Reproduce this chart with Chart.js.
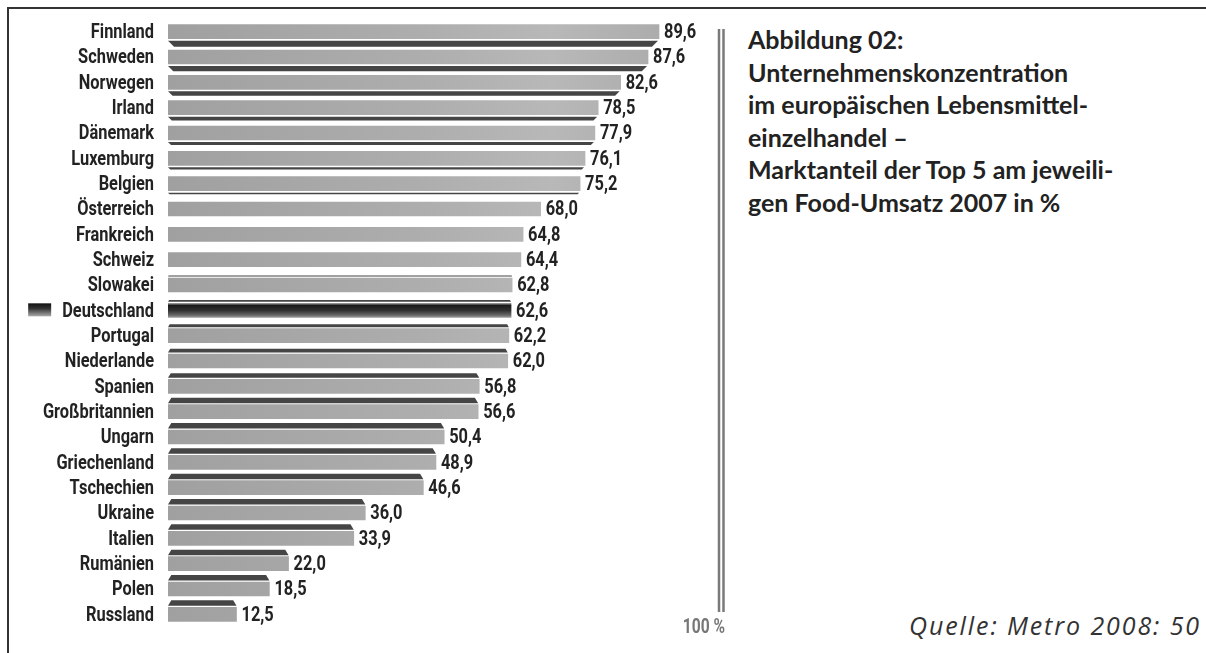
<!DOCTYPE html>
<html>
<head>
<meta charset="utf-8">
<script src="https://cdn.jsdelivr.net/npm/chart.js@4.4.0/dist/chart.umd.min.js"></script>
<style>
  body { margin: 0; background: #fff; width: 1206px; height: 653px; overflow: hidden; position: relative; }
  #rahmen { position: absolute; left: 7px; top: 7px; right: -10px; bottom: -10px; border-left: 2px solid #333; border-top: 2px solid #333; }
  #box { position: absolute; left: 0; top: 0; width: 740px; height: 653px; }
  #titel { position: absolute; left: 748px; top: 23px; font: bold 25px Lato, sans-serif; line-height: 32.5px; color: #222; }
  #quelle { position: absolute; right: 5px; top: 608px; font: italic 400 25px "Open Sans", sans-serif; letter-spacing: 1.9px; color: #333; }
</style>
</head>
<body>
<div id="rahmen"></div>
<div id="box"><canvas id="grafik" width="740" height="653"></canvas></div>
<div id="titel">Abbildung 02:<br>Unternehmenskonzentration<br>im europäischen Lebensmittel-<br>einzelhandel –<br>Marktanteil der Top 5 am jeweili-<br>gen Food-Umsatz 2007 in %</div>
<div id="quelle">Quelle: Metro 2008: 50</div>

<script>
const laender = ["Finnland", "Schweden", "Norwegen", "Irland", "Dänemark", "Luxemburg", "Belgien",
  "Österreich", "Frankreich", "Schweiz", "Slowakei", "Deutschland", "Portugal", "Niederlande",
  "Spanien", "Großbritannien", "Ungarn", "Griechenland", "Tschechien", "Ukraine", "Italien",
  "Rumänien", "Polen", "Russland"];
const anteile = [89.6, 87.6, 82.6, 78.5, 77.9, 76.1, 75.2, 68.0, 64.8, 64.4, 62.8, 62.6, 62.2, 62.0,
  56.8, 56.6, 50.4, 48.9, 46.6, 36.0, 33.9, 22.0, 18.5, 12.5];
const wertTexte = anteile.map(v => v.toFixed(1).replace(".", ","));
const achsenMax = 100;

const schrift = "bold 21px Roboto, sans-serif";
const stauchung = 0.78;   // schmale Schrift nachbilden
const hervorgehoben = "Deutschland";

// dunkle Kante: oben unter dem Balken, unten ueber dem Balken
function kante(i) {
  if (i <= 6) return 6 - i * 0.75;
  if (i >= 10) return Math.min(5.5, 1 + (i - 10) * 0.9);
  return 0;
}

function schmalText(c, text, x, y, align) {
  c.save();
  c.translate(x, y);
  c.scale(stauchung, 1);
  c.textAlign = align;
  c.textBaseline = "middle";
  c.fillText(text, 0, 0);
  c.restore();
}

const extras = {
  id: "extras",
  afterDatasetsDraw(chart) {
    const c = chart.ctx;
    const area = chart.chartArea;
    const yScale = chart.scales.y;
    const bars = chart.getDatasetMeta(0).data;
    c.save();
    bars.forEach((bar, i) => {
      const t = kante(i);
      const h = bar.height;
      if (t > 0) {
        c.fillStyle = "#454545";
        c.beginPath();
        if (i <= 6) {
          const y0 = bar.y + h / 2 + 2, y1 = y0 + t;
          c.moveTo(bar.base, y0); c.lineTo(bar.x - 1, y0);
          c.lineTo(bar.x - 1 - t, y1); c.lineTo(bar.base + t, y1);
        } else {
          const y1 = bar.y - h / 2 - 1.5, y0 = y1 - t;
          c.moveTo(bar.base + t * 0.6, y0); c.lineTo(bar.x - t * 0.6, y0);
          c.lineTo(bar.x, y1); c.lineTo(bar.base, y1);
        }
        c.closePath();
        c.fill();
      }
      c.fillStyle = "#222";
      c.font = schrift;
      schmalText(c, wertTexte[i], bar.x + 5, bar.y + 1, "left");
      schmalText(c, laender[i], yScale.right - 14, yScale.getPixelForValue(i) + 1, "right");
    });

    // kleines Farbfeld vor Deutschland
    const k = laender.indexOf(hervorgehoben);
    const ky = yScale.getPixelForValue(k);
    c.font = schrift;
    const w = c.measureText(hervorgehoben).width * stauchung;
    const fx = yScale.right - 14 - w - 11 - 23;
    const g = c.createLinearGradient(0, ky - 7, 0, ky + 6);
    g.addColorStop(0, "#111");
    g.addColorStop(0.4, "#333");
    g.addColorStop(1, "#aaa");
    c.fillStyle = g;
    c.fillRect(fx, ky - 7, 23, 13);

    // Doppellinie bei 100 %
    const x100 = chart.scales.x.getPixelForValue(achsenMax);
    c.strokeStyle = "#7a7a7a";
    c.lineWidth = 2.5;
    [3, 7.5].forEach(d => {
      c.beginPath();
      c.moveTo(x100 + d, area.top + 10);
      c.lineTo(x100 + d, area.bottom - 15);
      c.stroke();
    });
    c.fillStyle = "#777";
    c.font = "bold 20px Roboto, sans-serif";
    schmalText(c, achsenMax + " %", x100 + 9, area.bottom + 1, "right");
    c.restore();
  }
};

function balkenFarbe(ctx) {
  const chart = ctx.chart;
  const area = chart.chartArea;
  if (!area) return "#a9a9a9";
  const c = chart.ctx;
  if (laender[ctx.dataIndex] === hervorgehoben) {
    const y = chart.scales.y.getPixelForValue(ctx.dataIndex);
    const g = c.createLinearGradient(0, y - 7, 0, y + 7);
    g.addColorStop(0, "#9a9a9a");
    g.addColorStop(0.15, "#1a1a1a");
    g.addColorStop(0.5, "#303030");
    g.addColorStop(0.85, "#6a6a6a");
    g.addColorStop(1, "#999");
    return g;
  }
  const g = c.createLinearGradient(area.left, 0, area.right, 0);
  g.addColorStop(0, "#a0a0a0");
  g.addColorStop(0.45, "#adadad");
  g.addColorStop(0.7, "#b8b8b8");
  g.addColorStop(1, "#a6a6a6");
  return g;
}

new Chart(document.getElementById("grafik").getContext("2d"), {
  type: "bar",
  data: {
    labels: laender,
    datasets: [{
      data: anteile,
      backgroundColor: balkenFarbe,
      borderWidth: 0,
      barThickness: 14
    }]
  },
  options: {
    indexAxis: "y",
    responsive: false,
    animation: false,
    layout: { padding: { top: 19, bottom: 26, left: 0, right: 24 } },
    scales: {
      x: { min: 0, max: achsenMax, display: false },
      y: {
        afterFit: s => { s.width = 168; },
        grid: { display: false, drawTicks: false },
        border: { display: false },
        ticks: { display: false, autoSkip: false }
      }
    },
    plugins: {
      legend: { display: false },
      tooltip: { enabled: false }
    }
  },
  plugins: [extras]
});
</script>
</body>
</html>
